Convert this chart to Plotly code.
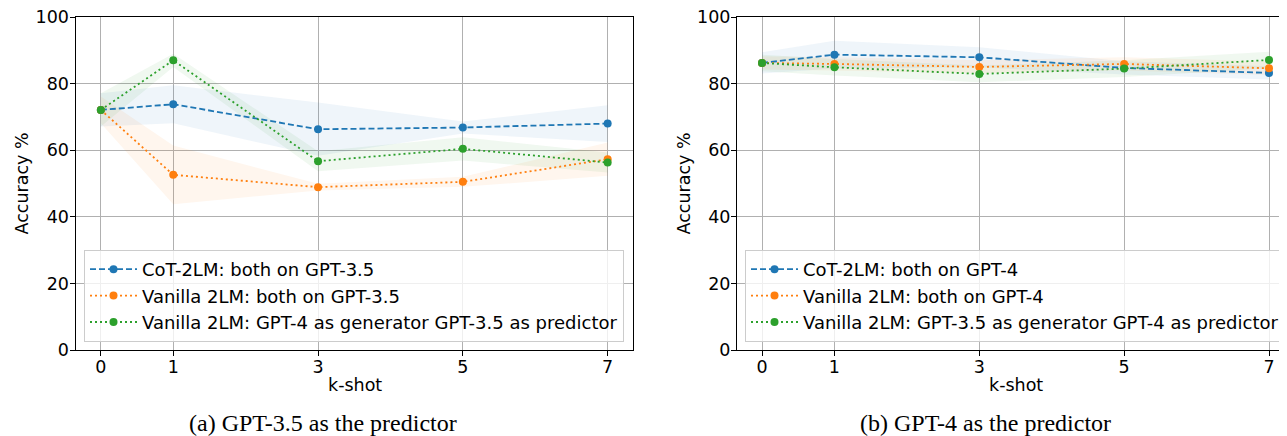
import plotly.graph_objects as go

# ---------------- data ----------------
k_shot = [0, 1, 3, 5, 7]

# (a) GPT-3.5 as the predictor
a_cot_mean = [72.1, 73.8, 66.3, 66.8, 68.0]
a_cot_std = [5.0, 5.7, 8.0, 1.8, 5.5]
a_van_mean = [72.1, 52.6, 48.9, 50.5, 57.3]
a_van_std = [4.0, 8.8, 1.0, 1.5, 5.0]
a_gen_mean = [72.1, 87.0, 56.7, 60.4, 56.3]
a_gen_std = [5.0, 2.0, 3.0, 3.5, 3.0]

# (b) GPT-4 as the predictor
b_cot_mean = [86.2, 88.7, 87.9, 84.7, 83.2]
b_cot_std = [3.2, 4.2, 3.0, 2.0, 2.0]
b_van_mean = [86.2, 85.9, 85.0, 85.9, 84.6]
b_van_std = [2.0, 2.0, 2.0, 2.0, 2.0]
b_gen_mean = [86.2, 84.9, 82.9, 84.5, 87.1]
b_gen_std = [2.5, 2.5, 2.5, 2.5, 2.5]

a_names = ["CoT-2LM: both on GPT-3.5",
           "Vanilla 2LM: both on GPT-3.5",
           "Vanilla 2LM: GPT-4 as generator GPT-3.5 as predictor"]
b_names = ["CoT-2LM: both on GPT-4",
           "Vanilla 2LM: both on GPT-4",
           "Vanilla 2LM: GPT-3.5 as generator GPT-4 as predictor"]

y_ticks = [0, 20, 40, 60, 80, 100]
captions = ["(a) GPT-3.5 as the predictor", "(b) GPT-4 as the predictor"]

# ---------------- styles ----------------
colors = ["#1f77b4", "#ff7f0e", "#2ca02c"]
fills = ["rgba(31,119,180,0.07)", "rgba(255,127,14,0.07)", "rgba(44,160,44,0.07)"]
dashes = ["6px,3px", "2px,3px", "2px,3px"]
FONT = "DejaVu Sans"
FS = 17.5

# page body has an 8px margin: shrink the figure and shift all pixel targets
OFF = 8
W, H = 1287 - OFF, 436 - OFF


def px(x):
    return (x - OFF) / W


def py(y):
    return 1 - (y - OFF) / H


fig = go.Figure()


def add_panel(means, stds, names, xa, ya, legend):
    for i, (m, s) in enumerate(zip(means, stds)):
        up = [a + b for a, b in zip(m, s)]
        lo = [a - b for a, b in zip(m, s)]
        fig.add_trace(go.Scatter(
            x=k_shot + k_shot[::-1], y=up + lo[::-1], fill="toself",
            fillcolor=fills[i], line=dict(width=0), mode="lines",
            hoverinfo="skip", showlegend=False, xaxis=xa, yaxis=ya,
            legend=legend))
    for i, (m, n) in enumerate(zip(means, names)):
        fig.add_trace(go.Scatter(
            x=k_shot, y=m, mode="lines+markers", name=n,
            line=dict(color=colors[i], width=1.8, dash=dashes[i]),
            marker=dict(color=colors[i], size=8),
            xaxis=xa, yaxis=ya, legend=legend))


add_panel([a_cot_mean, a_van_mean, a_gen_mean], [a_cot_std, a_van_std, a_gen_std],
          a_names, "x", "y", "legend")
add_panel([b_cot_mean, b_van_mean, b_gen_mean], [b_cot_std, b_van_std, b_gen_std],
          b_names, "x2", "y2", "legend2")

ydom = [py(350), py(17)]
axis_common = dict(showgrid=True, gridcolor="#b0b0b0", gridwidth=1, zeroline=False,
                   showline=True, linecolor="black", linewidth=1, automargin=False,
                   ticks="outside", ticklen=5, tickcolor="black", tickwidth=1,
                   ticklabeloverflow="allow",
                   tickfont=dict(family=FONT, size=FS, color="black"))

legend_common = dict(y=py(342), xanchor="left", yanchor="bottom",
                     bgcolor="rgba(255,255,255,0.8)", bordercolor="#cccccc",
                     borderwidth=1, itemwidth=47,
                     font=dict(family=FONT, size=18, color="black"))

# right panel: x=0 at 762px, x=7 at 1269px
ppu = (1269 - 762) / 7.0
x2_lo = -(762 - 737) / ppu
x2_hi = (1287 - 762) / ppu

fig.update_layout(
    width=W, height=H,
    margin=dict(l=0, r=0, t=0, b=0, autoexpand=False),
    paper_bgcolor="white", plot_bgcolor="white",
    xaxis=dict(domain=[px(75.5), px(633)], range=[-0.35, 7.35], tickvals=k_shot,
               mirror=True, anchor="y", ticklabelstandoff=-4, **axis_common),
    yaxis=dict(domain=ydom, range=[0, 100], tickvals=y_ticks, mirror=True,
               anchor="x", ticklabelstandoff=-3, **axis_common),
    xaxis2=dict(domain=[px(737), 1.0], range=[x2_lo, x2_hi], tickvals=k_shot,
                mirror=True, anchor="y2", ticklabelstandoff=-4, **axis_common),
    yaxis2=dict(domain=ydom, range=[0, 100], tickvals=y_ticks, mirror=False,
                anchor="x2", ticklabelstandoff=-3, **axis_common),
    legend=dict(x=px(84), **legend_common),
    legend2=dict(x=px(745), **legend_common),
)

annotations = []
for xc in [21, 683]:
    annotations.append(dict(x=px(xc), y=py(183.5), xref="paper", yref="paper",
                            text="Accuracy %", textangle=-90, showarrow=False,
                            font=dict(family=FONT, size=FS, color="black"),
                            xanchor="center", yanchor="middle"))
for xc in [354.5, 1015.5]:
    annotations.append(dict(x=px(xc), y=py(385), xref="paper", yref="paper",
                            text="k-shot", showarrow=False,
                            font=dict(family=FONT, size=FS, color="black"),
                            xanchor="center", yanchor="middle"))
for xc, cap in zip([323, 985], captions):
    annotations.append(dict(x=px(xc), y=py(423), xref="paper", yref="paper",
                            text=cap, showarrow=False,
                            font=dict(family="Liberation Serif", size=24, color="black"),
                            xanchor="center", yanchor="middle"))
fig.update_layout(annotations=annotations)

fig.write_html("out.html")
